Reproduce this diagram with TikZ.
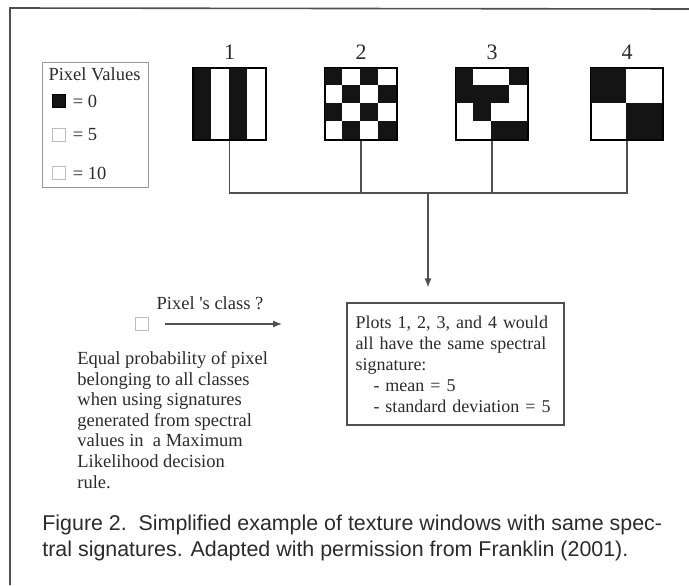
\documentclass[tikz,border=0pt]{standalone}
\usepackage{fontspec}
\setmainfont{Liberation Serif}
\newfontfamily\capfont{Liberation Sans}
\usetikzlibrary{arrows.meta,positioning}
\definecolor{ink}{HTML}{2B2B2B}
\definecolor{rule}{HTML}{505050}
\definecolor{pale}{HTML}{BDBDBD}

\begin{document}
\begin{tikzpicture}[x=0.5pt,y=-0.5pt,font=\fontsize{9.25}{10.3}\selectfont, every node/.style={text=ink}]
      \tikzstyle{win}=[draw=black,line width=0.6pt,minimum size=36pt,inner sep=0pt]
      \tikzstyle{num}=[font=\fontsize{11}{13}\selectfont]
      \tikzstyle{key}=[draw,minimum size=6.5pt,inner sep=0pt]
      \tikzstyle{link}=[draw=rule,line width=0.6pt]
      \tikzstyle{tip}=[-{Latex[length=4.5pt,width=3.5pt]}]

      \useasboundingbox (0,0) rectangle (689,585);
      \draw[rule,line width=0.8pt] (689,9) -- (10,8) -- (10,585);

      % legend
      \node(leg)[draw=pale!80!black,line width=0.5pt,minimum width=53pt,minimum height=62.5pt,inner sep=0pt] at (95,124.5) {};
      \node(legt) at (94.5,74) {Pixel Values};
      \node(k0)[key,draw=black,fill=black!92] at (58.5,101) {};
      \node(k5)[key,draw=pale] at (58.5,135) {};
      \node(k10)[key,draw=pale] at (58.5,173) {};
      \node[right=3pt of k0,inner sep=0.5pt]{= 0};
      \node[right=3pt of k5,inner sep=0.5pt]{= 5};
      \node[right=3pt of k10,inner sep=0.5pt]{= 10};

      % texture windows
      \node(w1)[win] at (229.5,104) {};
      \node(w2)[win] at (361,104) {};
      \node(w3)[win] at (492,104) {};
      \node(w4)[win] at (627,104) {};
      \foreach \c/\r in {0/0,0/1,0/2,0/3,2/0,2/1,2/2,2/3}
          \fill[black!92] ([shift={(18*\c,18*\r)}]w1.north west) rectangle ++(18,18);
      \foreach \c/\r in {0/0,2/0,1/1,3/1,0/2,2/2,1/3,3/3}
          \fill[black!92] ([shift={(18*\c,18*\r)}]w2.north west) rectangle ++(18,18);
      \foreach \c/\r in {0/0,3/0,0/1,1/1,2/1,1/2,2/3,3/3}
          \fill[black!92] ([shift={(18*\c,18*\r)}]w3.north west) rectangle ++(18,18);
      \foreach \c/\r in {0/0,1/0,0/1,1/1,2/2,3/2,2/3,3/3}
          \fill[black!92] ([shift={(18*\c,18*\r)}]w4.north west) rectangle ++(18,18);
      \foreach \w in {w1,w2,w3,w4}
          \draw[line width=0.6pt] (\w.north west) rectangle (\w.south east);
      \node[num,above=0.5pt of w1]{1};
      \node[num,above=0.5pt of w2]{2};
      \node[num,above=0.5pt of w3]{3};
      \node[num,above=0.5pt of w4]{4};

      % signature box
      \node(sig)[draw=rule,line width=0.6pt,align=left,font=\fontsize{9}{10.5}\selectfont,text width=100pt,inner xsep=4.25pt,minimum width=108.5pt,minimum height=61pt] at (455.5,364)
          {Plots 1, 2, 3, and 4 would\\all have the same spectral\\signature:\\\hspace*{9pt}- mean = 5\\\hspace*{9pt}- standard deviation = 5};

      \coordinate(bus) at (428,193);
      \draw[link] (w1.south) |- (bus) -| (w4.south);
      \draw[link] (w2.south) -- (w2.south |- bus);
      \draw[link] (w3.south) -- (w3.south |- bus);
      \draw[link,tip,shorten >=7.5pt] (bus) -- (bus |- sig.north);

      % unknown pixel
      \node(px)[key,draw=pale] at (141.5,324) {};
      \coordinate(cls) at (282,324);
      \draw[link,tip,shorten <=8.5pt] (px.east) -- (cls);
      \node(q) at (210,303) {Pixel \textquotesingle s class ?};
      \node(eq)[anchor=west,align=left,inner sep=0pt] at (77,420)
          {Equal probability of pixel\\belonging to all classes\\when using signatures\\generated from spectral\\values in~ a Maximum\\Likelihood decision\\rule.};

      % caption
      \node(cap)[anchor=west,align=left,inner sep=0pt,font=\capfont\fontsize{10.7}{13}\selectfont] at (42,538)
          {Figure 2.\ \ Simplified example of texture windows with same spec-\\tral signatures. Adapted with permission from Franklin (2001).};
\end{tikzpicture}
\end{document}
